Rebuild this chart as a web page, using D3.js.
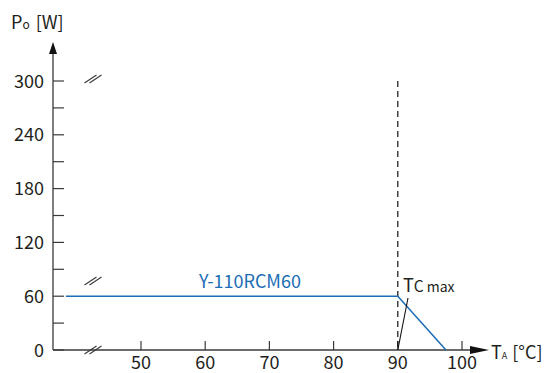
<!DOCTYPE html>
<html lang="en">
<head>
    <meta charset="UTF-8" />
    <title>Derating curve Y-110RCM60</title>
    <script src="https://d3js.org/d3.v7.min.js"></script>
    <style>
        body { margin: 0; background: #fff; }
        text { font-family: "Noto Sans CJK JP", "Noto Sans", sans-serif; fill: #231f20; }
    </style>
</head>
<body>
    <script>
        var w = 544;
        var h = 373;

        // data
        var seriesName = "Y-110RCM60";
        var tempValues = [38.3, 90, 97.5];
        var powerValues = [60, 60, 0];
        var xTicks = [50, 60, 70, 80, 90, 100];
        var yTicks = [0, 60, 120, 180, 240, 300];
        var yMinorTicks = [30, 90, 150, 210, 270];
        var tcMax = 90;

        var axisColor = "#3a3a3a";
        var blue = "#1c6db5";

        var svg = d3.select("body")
            .append("svg")
            .attr("width", w)
            .attr("height", h);

        // Scales
        var xScale = d3.scaleLinear().domain([50, 100]).range([141, 462]);
        var yScale = d3.scaleLinear().domain([0, 300]).range([350, 81]);
        var x0 = 53, y0 = 350;

        // axis lines
        svg.append("line")
            .attr("x1", x0).attr("y1", y0)
            .attr("x2", x0).attr("y2", 50)
            .attr("stroke", axisColor).attr("stroke-width", 1.3);
        svg.append("path")
            .attr("d", "M" + x0 + ",42L" + (x0 - 4) + ",54L" + (x0 + 4) + ",54Z")
            .attr("fill", "#111");

        svg.append("line")
            .attr("x1", x0).attr("y1", y0)
            .attr("x2", 476).attr("y2", y0)
            .attr("stroke", axisColor).attr("stroke-width", 1.3);
        svg.append("path")
            .attr("d", "M489," + y0 + "L470," + (y0 - 4) + "L470," + (y0 + 4) + "Z")
            .attr("fill", "#111");

        // y ticks
        svg.selectAll(".ytick")
            .data(yTicks.concat(yMinorTicks))
            .enter()
            .append("line")
            .attr("x1", x0).attr("x2", x0 + 11)
            .attr("y1", function(d) { return yScale(d); })
            .attr("y2", function(d) { return yScale(d); })
            .attr("stroke", axisColor).attr("stroke-width", 1.2);

        svg.selectAll(".ylabel")
            .data(yTicks)
            .enter()
            .append("text")
            .attr("x", 44)
            .attr("y", function(d) { return yScale(d) + 6.5; })
            .attr("text-anchor", "end")
            .attr("font-size", 18)
            .text(function(d) { return d; });

        // x ticks
        svg.selectAll(".xtick")
            .data(xTicks)
            .enter()
            .append("line")
            .attr("x1", function(d) { return xScale(d); })
            .attr("x2", function(d) { return xScale(d); })
            .attr("y1", y0).attr("y2", y0 - 9)
            .attr("stroke", axisColor).attr("stroke-width", 1.2);

        svg.selectAll(".xlabel")
            .data(xTicks)
            .enter()
            .append("text")
            .attr("x", function(d) { return xScale(d); })
            .attr("y", y0 + 19)
            .attr("text-anchor", "middle")
            .attr("font-size", 18)
            .text(function(d) { return d; });

        // break marks
        function breakMark(cx, cy) {
            [-2.5, 2.5].forEach(function(o) {
                svg.append("line")
                    .attr("x1", cx - 6 + o).attr("y1", cy + 4)
                    .attr("x2", cx + 6 + o).attr("y2", cy - 4)
                    .attr("stroke", axisColor).attr("stroke-width", 1.1);
            });
        }
        breakMark(93, 79);
        breakMark(93, 281);
        breakMark(93, 350);

        // Tc max dashed line
        svg.append("line")
            .attr("x1", xScale(tcMax)).attr("x2", xScale(tcMax))
            .attr("y1", yScale(300)).attr("y2", y0)
            .attr("stroke", "#111").attr("stroke-width", 1.2)
            .attr("stroke-dasharray", "6,4");

        // series
        var line = d3.line()
            .x(function(d, i) { return xScale(tempValues[i]); })
            .y(function(d) { return yScale(d); });

        svg.append("path")
            .datum(powerValues)
            .attr("d", line)
            .attr("fill", "none")
            .attr("stroke", blue)
            .attr("stroke-width", 1.5);

        svg.append("text")
            .attr("x", 250).attr("y", 288)
            .attr("text-anchor", "middle")
            .attr("font-size", 18)
            .style("fill", blue)
            .text(seriesName);

        // Tc max label + leader
        svg.append("line")
            .attr("x1", xScale(tcMax)).attr("y1", y0)
            .attr("x2", 408).attr("y2", 298)
            .attr("stroke", "#111").attr("stroke-width", 1.1);

        var tc = svg.append("text").attr("x", 403).attr("y", 292).attr("font-size", 18);
        tc.append("tspan").text("T");
        tc.append("tspan").attr("font-size", 15.5).text("C");
        tc.append("tspan").attr("dx", 3).attr("font-size", 14).text("max");

        // axis titles
        var py = svg.append("text").attr("x", 11).attr("y", 29).attr("font-size", 18);
        py.append("tspan").text("P");
        py.append("tspan").attr("font-size", 12).text("o");
        py.append("tspan").attr("dx", 6).text("[W]");

        var tx = svg.append("text").attr("x", 491).attr("y", 359).attr("font-size", 18);
        tx.append("tspan").text("T");
        tx.append("tspan").attr("font-size", 9).text("A");
        tx.append("tspan").attr("dx", 5).text("[°C]");
    </script>
</body>
</html>
